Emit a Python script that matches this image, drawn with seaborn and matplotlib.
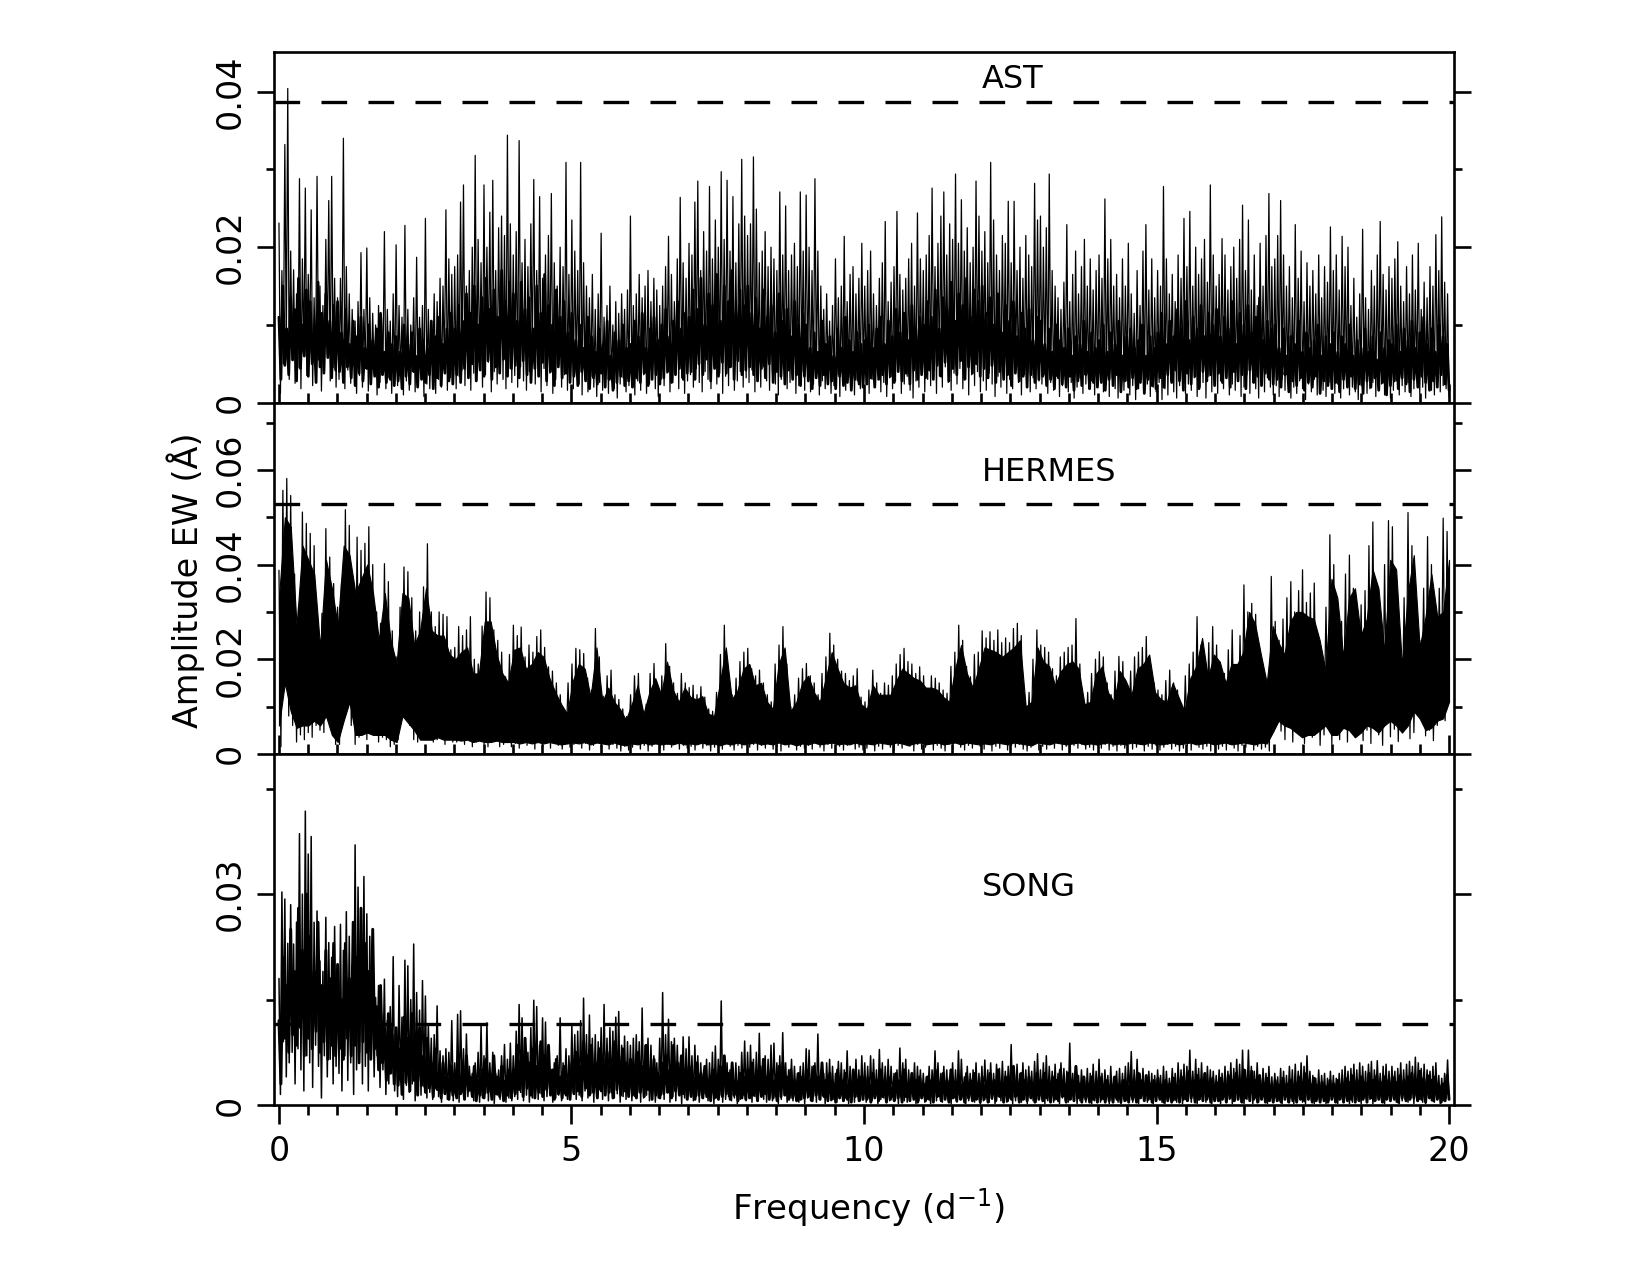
import numpy as np
import matplotlib
matplotlib.use("Agg")
import matplotlib.pyplot as plt
from matplotlib.ticker import FixedLocator, FixedFormatter
import seaborn as sns

# Amplitude spectra of the equivalent width, in units of 1e-4 Angstrom.
# Each row covers one cycle per day; highs and lows alternate along the frequency axis.
# The *_dense lists hold the crowded lower part of a spectrum, and the hermes_mass lists
# outline the unresolved black region of the HERMES spectrum.
ast_highs = [
 231,170,332,404,195,171,140,288,185,276,165,248,135,291,150,125,210,260,291,160,
 135,160,340,175,140,120,105,130,193,120,199,135,115,100,125,110,220,120,105,140,
 203,125,110,228,120,100,135,187,110,125,237,120,105,140,130,160,150,248,185,165,
 175,190,258,280,150,170,200,318,210,180,280,200,245,286,170,225,240,215,344,230,
 190,220,337,180,210,175,230,287,170,265,160,190,215,269,180,150,200,175,309,165,
 235,195,170,309,180,150,135,165,120,140,218,110,125,150,100,130,115,140,120,145,
 240,125,140,165,135,150,170,130,160,145,125,150,175,214,165,130,185,264,180,160,
 205,190,258,285,170,220,195,278,185,235,200,297,210,286,195,265,180,230,313,240,
 215,230,316,249,180,195,220,175,200,185,170,271,190,253,170,190,205,175,271,195,
 267,200,170,288,195,150,120,140,105,125,185,135,150,214,130,165,175,140,160,205,
 150,170,195,140,125,160,180,233,130,155,175,246,165,145,160,185,205,150,244,185,
 170,190,215,276,175,205,240,271,190,230,210,294,205,261,195,225,180,200,285,240,
 195,220,180,309,235,190,170,215,205,259,180,259,170,200,160,215,190,175,282,235,
 240,200,225,294,170,150,135,120,155,229,130,165,195,140,175,210,150,185,145,170,
 190,160,262,185,210,150,165,135,185,150,205,140,115,170,125,195,229,145,185,135,
 170,150,278,185,140,165,130,190,160,237,175,246,150,200,165,185,210,155,280,190,
 150,165,211,190,145,175,200,160,210,254,170,235,145,190,125,205,150,215,269,175,
 185,215,260,190,150,175,135,229,160,195,130,180,150,170,140,190,135,175,155,226,
 170,190,145,214,175,200,125,160,110,140,223,135,120,170,150,190,233,165,145,175,
 160,185,207,150,130,175,140,190,145,205,120,155,135,175,150,216,170,239,155,140,
]
ast_lows = [
 12,50,70,30,55,25,45,18,60,35,70,22,40,55,15,38,62,28,45,20,
 30,55,18,42,25,48,12,35,20,44,15,28,38,10,26,42,18,32,12,24,
 22,36,10,28,16,40,14,26,34,8,24,18,38,12,30,20,44,16,32,26,
 18,34,42,22,50,16,38,28,46,20,36,52,14,40,24,48,30,18,44,26,
 35,20,46,28,16,40,54,24,34,14,44,22,38,12,30,48,20,36,16,28,
 18,38,24,10,30,14,34,20,8,26,16,36,12,28,18,6,24,32,14,22,
 20,10,28,16,36,12,24,34,18,8,30,22,38,14,26,42,18,32,12,28,
 36,20,44,26,14,40,30,18,48,24,38,12,34,22,46,16,28,40,20,32,
 26,42,14,34,20,46,28,16,38,24,10,30,44,18,26,36,12,22,40,16,
 30,14,24,38,10,28,18,34,12,22,36,8,26,16,32,20,10,28,18,34,
 24,12,30,20,36,14,26,8,32,18,28,40,12,24,34,16,6,28,20,36,
 14,30,22,42,12,34,20,46,26,16,38,24,44,18,30,10,36,22,40,14,
 28,16,38,24,8,34,20,42,12,30,18,44,26,10,36,22,14,32,18,28,
 24,36,12,26,16,34,8,22,30,14,26,6,20,32,12,24,18,28,10,22,
 30,14,24,8,32,18,6,26,16,28,10,22,4,18,30,12,24,8,20,14,
 26,4,18,10,28,14,6,22,30,12,24,16,32,8,20,26,6,34,14,22,
 12,28,18,34,10,24,16,30,8,20,36,12,26,18,6,28,14,32,20,10,
 22,8,30,16,26,6,20,12,28,18,4,24,14,30,10,22,16,8,26,18,
 12,24,6,18,28,10,20,14,4,22,30,12,18,26,8,16,24,10,20,6,
 16,28,10,22,14,26,8,18,30,12,20,6,24,16,10,28,14,22,18,8,
]
ast_dense_highs = [
 110,150,95,135,120,160,100,145,130,90,155,115,140,105,125,
 130,90,120,75,105,85,110,70,100,80,95,115,65,90,75,
 85,65,100,75,90,60,95,80,70,105,85,110,75,95,115,
 95,125,105,140,115,150,100,135,160,120,145,110,170,130,155,
 140,105,155,120,135,95,150,115,165,125,100,145,110,130,90,
 115,80,100,70,110,85,65,95,75,105,60,90,80,100,70,
 75,105,85,115,70,95,110,80,100,120,85,105,130,95,115,
 110,145,120,160,100,140,125,165,105,150,130,170,115,145,125,
 150,115,135,95,145,110,125,90,140,105,120,85,130,100,115,
 100,70,90,65,105,75,85,60,95,70,110,80,65,90,75,
 80,100,70,95,110,75,105,85,120,90,115,80,125,95,110,
 100,130,110,145,95,135,120,155,105,140,125,160,110,145,130,
 150,115,135,100,140,90,125,105,130,85,115,95,120,80,110,
 105,75,95,65,100,80,70,95,60,85,75,105,65,90,70,
 80,100,65,90,75,105,60,85,95,70,80,100,60,85,70,
 90,115,75,105,85,120,95,130,80,110,95,125,85,115,100,
 120,85,110,95,130,75,115,100,125,90,110,135,80,105,95,
 100,70,95,60,85,75,105,65,90,70,80,100,60,85,75,
 90,65,85,75,100,60,80,70,95,65,85,55,90,70,80,
 75,100,65,95,80,105,70,90,110,75,95,65,100,85,75,
]
ast_dense_lows = [
 30,48,36,55,28,44,60,34,50,26,46,38,58,32,42,
 40,26,46,32,22,38,28,44,24,34,20,36,26,30,22,
 28,18,34,24,40,20,30,26,36,18,32,22,38,28,24,
 36,26,44,32,50,28,42,34,54,30,46,38,56,34,44,
 48,32,54,36,26,44,34,52,28,40,22,46,32,38,26,
 34,22,40,28,18,32,24,38,20,30,16,26,34,22,28,
 20,32,26,38,22,30,36,24,32,40,26,36,44,30,38,
 40,30,50,36,56,28,44,34,52,38,46,30,54,36,42,
 46,36,28,44,32,50,26,40,34,24,42,30,36,22,34,
 28,18,32,22,36,24,28,18,34,22,26,16,30,24,20,
 24,32,20,30,36,24,34,26,40,28,38,24,42,30,36,
 32,42,30,48,34,52,28,44,36,54,30,46,38,50,34,
 44,32,48,26,40,30,36,22,38,28,34,20,36,26,30,
 34,22,30,18,32,24,20,34,16,28,22,36,18,26,20,
 26,16,30,22,36,14,28,20,32,18,26,12,30,22,18,
 32,20,36,26,42,28,16,38,24,34,18,40,28,36,22,
 38,26,32,20,40,28,36,18,42,26,34,22,38,30,24,
 30,20,36,14,28,22,32,16,26,20,34,12,28,22,18,
 26,14,30,20,34,18,24,12,28,20,32,16,26,10,22,
 28,18,32,24,14,30,20,34,26,16,28,20,36,24,16,
]

hermes_highs = [
 388,557,582,546,380,310,511,487,466,440,248,297,476,416,360,
 310,360,516,483,374,458,430,445,480,400,300,276,402,364,260,
 205,310,395,385,330,260,300,353,444,300,269,300,295,290,220,
 225,269,250,262,290,200,190,270,342,330,262,240,215,163,210,
 272,250,268,205,230,215,248,262,225,184,175,150,125,93,150,
 190,223,220,212,160,135,265,205,122,165,177,125,115,95,79,
 125,165,170,95,105,170,191,125,165,233,185,150,128,170,150,
 140,145,125,142,120,95,90,130,210,272,165,125,160,195,215,
 223,180,165,177,150,125,110,190,230,269,190,100,125,160,180,
 191,165,150,125,170,205,255,230,200,175,170,155,165,180,120,
 110,135,177,150,128,150,145,165,190,210,223,195,190,170,184,
 165,135,165,160,150,135,128,185,215,272,240,185,163,210,215,
 260,245,258,240,262,235,245,235,265,276,250,110,130,200,262,
 230,225,215,180,165,205,215,225,230,286,190,110,130,170,200,
 216,205,150,125,175,206,195,140,175,205,215,225,248,190,150,
 135,125,155,177,150,135,100,165,190,215,290,230,185,235,269,
 230,185,170,220,262,180,250,357,300,318,295,215,180,130,375,
 280,240,285,330,364,300,345,389,320,340,361,250,200,310,463,
 400,240,280,380,420,350,290,315,345,440,490,300,250,400,493,
 480,330,200,330,510,440,260,240,350,459,400,280,350,498,470,
]
hermes_lows = [
 15,150,80,60,25,40,30,45,35,60,50,45,75,55,20,
 20,70,100,60,20,35,45,30,60,40,25,35,30,15,20,
 30,85,80,60,30,25,40,30,35,25,30,35,20,30,25,
 25,30,20,35,15,25,30,20,15,25,30,15,20,25,15,
 22,12,28,18,25,10,30,16,22,12,26,18,10,24,14,
 20,26,12,22,8,18,28,14,24,10,20,12,6,16,8,
 14,22,10,18,6,16,24,12,8,20,14,26,10,18,12,
 16,8,22,12,18,6,14,20,10,24,16,8,18,12,22,
 14,20,8,18,12,24,10,16,6,20,14,22,8,16,12,
 18,10,24,14,6,20,12,26,16,8,18,22,10,14,8,
 12,20,6,16,10,22,14,8,18,12,24,16,6,20,10,
 14,22,8,18,12,6,20,10,24,14,8,18,12,20,16,
 10,22,6,16,12,24,8,18,14,20,10,6,14,22,8,
 16,10,20,12,24,8,16,6,18,12,20,10,14,8,18,
 12,20,8,16,6,18,12,22,10,14,20,6,16,10,18,
 8,14,20,10,16,6,12,18,8,22,14,10,16,6,18,
 10,16,8,20,12,6,18,14,22,8,16,10,14,6,60,
 70,48,30,62,25,55,44,22,60,35,48,18,40,55,20,
 45,30,60,25,48,35,68,28,50,22,58,40,18,70,36,
 52,26,72,60,32,45,92,80,38,50,28,60,85,70,112,
]
hermes_mass_top = [
 330,500,480,270,440,410,380,225,410,350,
 270,440,420,340,370,400,340,240,340,240,
 190,340,330,230,260,350,260,250,250,210,
 200,215,225,170,170,280,280,210,170,150,
 220,225,180,190,215,205,160,130,105,85,
 155,190,180,120,225,110,140,110,95,72,
 105,145,85,130,160,125,195,135,110,140,
 120,115,122,85,80,150,225,115,135,180,
 190,145,150,110,95,190,225,90,110,150,
 165,130,110,160,215,180,150,140,145,105,
 95,145,125,125,125,155,180,170,160,155,
 140,140,135,120,110,180,230,170,140,180,
 225,220,215,205,215,225,240,100,110,225,
 195,185,145,175,190,195,180,105,110,170,
 185,130,110,175,155,125,180,190,210,130,
 115,110,150,120,90,160,185,245,160,210,
 195,150,190,190,215,300,275,210,150,270,
 235,210,280,300,300,290,285,240,175,370,
 330,205,330,350,250,285,390,350,215,410,
 390,185,340,420,225,290,380,290,300,410,
]
hermes_mass_floor = [
 60,150,90,55,60,60,70,60,80,40,
 25,70,110,40,40,45,40,40,40,30,
 25,80,65,50,30,30,30,35,30,30,
 30,28,30,25,28,25,25,28,25,25,
 25,22,25,22,25,22,25,22,20,22,
 24,22,25,20,24,22,20,24,20,18,
 22,20,24,20,22,20,22,20,24,20,
 22,20,24,20,22,18,22,20,24,20,
 22,24,20,22,20,24,20,22,18,22,
 20,24,20,22,24,20,22,20,24,20,
 22,20,24,22,20,24,22,18,22,24,
 20,22,24,20,22,24,20,24,22,20,
 22,20,24,22,20,24,22,20,18,24,
 22,20,24,22,20,22,24,20,22,20,
 22,24,20,22,20,24,22,20,24,22,
 20,22,24,20,22,24,20,22,24,20,
 22,24,20,22,24,22,20,24,22,45,
 70,60,55,45,35,40,40,50,60,40,
 40,55,50,35,45,60,55,45,60,70,
 60,45,60,90,75,50,55,70,75,110,
]

song_highs = [
 180,303,293,230,285,229,260,386,300,418,357,382,260,276,205,190,267,231,210,254,
 190,257,220,275,240,200,370,310,270,325,272,240,165,153,170,130,179,120,140,211,
 110,170,125,206,198,150,229,160,135,177,155,115,95,100,141,77,70,80,75,120,
 60,129,134,80,101,55,45,60,75,113,70,117,60,75,45,50,70,86,65,88,
 70,105,143,124,95,75,110,149,140,85,124,118,60,50,60,70,124,60,80,70,
 113,100,105,120,152,100,128,95,100,90,110,143,95,110,105,125,133,85,98,90,
 85,95,100,90,138,85,95,85,70,60,95,160,100,122,90,95,85,60,97,80,
 97,70,85,70,60,50,65,60,75,84,65,148,70,60,50,45,60,55,75,91,
 75,85,65,75,102,55,70,65,85,88,60,70,103,60,50,65,55,45,55,60,
 80,78,55,60,101,50,45,60,65,55,45,62,60,50,77,55,45,65,50,70,
 60,55,70,65,50,79,60,55,65,55,45,50,81,60,65,50,45,60,55,50,
 45,40,55,50,77,60,45,55,50,40,60,50,77,65,40,55,45,50,60,45,
 55,64,50,60,45,58,52,62,48,55,86,50,58,45,60,50,55,48,62,73,
 50,60,70,55,48,58,45,60,52,48,88,45,55,42,50,40,52,45,58,48,
 65,45,50,42,55,40,48,52,45,55,60,76,50,65,45,52,40,48,45,42,
 50,42,55,48,38,52,45,60,50,58,55,78,48,65,52,60,45,55,50,48,
 42,50,45,55,48,60,52,65,58,78,50,78,55,48,60,42,52,45,55,40,
 45,40,52,48,42,55,50,58,48,60,55,70,48,42,38,50,42,45,38,48,
 42,38,45,50,55,48,52,58,50,60,55,48,58,62,50,63,45,55,58,48,
 55,48,52,60,50,58,62,55,68,60,52,58,50,48,55,60,42,38,45,64,
]
song_lows = [
 15,90,40,60,75,30,80,50,20,70,60,25,85,55,10,70,40,65,30,55,
 45,20,70,35,60,15,50,75,30,55,20,65,40,70,25,50,15,30,45,20,
 12,35,8,28,18,30,6,22,14,26,10,18,8,24,12,4,16,8,20,6,
 14,4,18,8,12,20,6,14,4,10,16,6,12,2,14,8,18,4,10,6,
 12,8,18,6,14,4,10,20,8,16,6,12,18,4,10,14,6,16,8,12,
 18,8,14,6,20,10,16,4,12,22,8,14,6,18,10,16,4,12,8,14,
 6,12,18,4,10,14,6,16,4,10,14,8,18,4,12,6,16,2,10,8,
 14,6,12,4,10,16,6,12,2,10,14,4,8,12,6,10,2,8,14,6,
 10,4,12,6,14,8,4,10,6,12,2,8,14,4,10,6,12,4,8,2,
 10,6,12,4,8,14,2,10,6,8,4,12,6,10,2,8,4,12,6,8,
 4,10,6,12,2,8,10,4,6,12,8,2,10,6,4,8,12,2,6,10,
 4,8,2,10,6,12,4,8,6,2,10,4,8,12,2,6,10,4,8,2,
 6,10,4,8,2,12,6,8,4,10,2,6,12,4,8,2,10,6,4,8,
 10,2,6,12,4,8,2,10,6,4,8,12,2,6,10,4,8,2,6,10,
 4,8,12,2,6,10,4,2,8,6,12,4,8,2,10,6,4,8,2,6,
 10,4,2,8,12,6,4,10,2,8,6,4,10,2,8,6,4,12,2,8,
 6,2,10,4,8,2,6,10,4,2,8,6,2,10,4,8,12,2,6,4,
 10,6,2,8,4,10,2,6,8,4,2,10,6,2,8,4,10,2,6,8,
 4,2,8,6,10,2,4,8,6,2,10,4,8,2,6,10,4,2,8,6,
 10,4,2,6,8,4,10,2,6,8,4,2,10,6,4,8,2,6,10,8,
]
song_dense_highs = [
 120,210,170,250,190,280,220,300,240,190,260,170,220,180,230,
 200,150,230,180,260,210,280,230,190,250,140,170,110,130,100,
 110,80,125,95,130,85,110,70,95,60,80,45,60,40,55,
 35,60,45,70,40,55,35,50,65,45,70,40,55,35,50,
 50,85,65,95,60,80,55,90,70,85,50,65,40,55,35,
 60,75,55,90,70,85,60,80,65,75,55,90,70,80,60,
 65,50,75,55,85,50,65,45,60,70,50,85,60,70,45,
 55,40,60,45,55,35,50,40,55,70,45,60,35,45,40,
 50,60,40,55,65,40,50,35,55,60,40,50,35,45,40,
 50,35,55,40,60,35,45,30,50,35,45,30,50,35,40,
 40,30,45,35,50,30,40,25,45,35,50,30,45,35,40,
 30,40,35,50,30,45,35,50,25,40,30,45,35,45,30,
 40,30,45,35,50,30,40,35,55,30,45,35,40,30,45,
 35,45,30,40,35,50,30,45,35,55,30,40,30,40,28,
 40,28,35,30,40,28,35,30,40,30,45,35,42,30,35,
 38,28,35,30,38,28,40,32,48,35,42,35,45,30,38,
 32,38,30,42,35,45,32,50,38,48,35,42,30,38,28,
 35,28,38,30,35,28,40,32,45,30,38,28,32,26,35,
 30,35,28,38,32,42,35,40,32,45,35,42,32,40,35,
 40,32,42,35,40,45,35,48,38,42,35,40,28,30,42,
]
song_dense_lows = [
 30,95,75,100,85,110,70,95,80,105,75,90,65,85,70,
 80,65,95,70,85,60,90,75,65,80,50,60,35,45,30,
 28,15,32,20,35,14,28,18,24,12,22,10,16,8,14,
 10,16,8,20,12,6,14,10,18,8,16,12,6,14,10,
 16,22,12,24,14,10,18,12,22,14,8,16,10,14,8,
 16,20,12,24,14,18,10,20,14,18,10,22,14,20,12,
 14,10,18,12,22,8,14,10,16,18,10,20,14,16,8,
 12,8,14,10,12,6,10,8,12,16,8,14,6,10,8,
 10,14,6,12,16,8,10,6,12,14,8,10,6,8,10,
 12,6,14,8,12,6,8,4,10,6,8,4,12,6,8,
 8,4,10,6,12,4,8,6,10,4,12,6,8,4,10,
 6,8,4,12,6,8,4,10,6,8,4,10,6,8,4,
 8,4,10,6,12,4,6,8,12,4,8,6,10,4,8,
 6,10,4,8,6,12,4,8,6,10,4,8,4,8,4,
 8,4,6,4,8,4,6,4,8,4,10,6,8,4,6,
 8,4,6,4,8,4,8,6,10,4,8,6,8,4,6,
 6,8,4,10,6,8,4,10,6,8,4,8,4,6,4,
 6,4,8,4,6,4,8,6,8,4,6,4,6,4,8,
 4,8,4,6,8,4,6,8,4,10,6,8,4,8,6,
 8,4,10,6,8,10,6,8,4,10,6,8,4,6,8,
]

panel_names = ["AST", "HERMES", "SONG"]
thresholds = [0.03865, 0.0529, 0.01155]
y_limits = [0.04514, 0.0742, 0.04995]
label_heights = [0.0405, 0.0576, 0.0298]
major_y_ticks = [[0, 0.02, 0.04], [0, 0.02, 0.04, 0.06], [0, 0.03]]
minor_y_ticks = [[0.01, 0.03], [0.01, 0.03, 0.05, 0.07], [0.015, 0.045]]
major_y_labels = [["0", "0.02", "0.04"], ["0", "0.02", "0.04", "0.06"], ["0", "0.03"]]
x_tick_values = [0, 5, 10, 15, 20]
x_minor_values = [0.5 * k for k in range(41) if k % 10]
x_limits = (-0.09, 20.09)


def zigzag(highs, lows):
    """Alternate highs and lows into one spectrum on a uniform frequency grid."""
    count = min(len(highs), len(lows))
    amp = np.empty(2 * count)
    amp[0::2] = np.asarray(highs[:count]) * 1e-4
    amp[1::2] = np.asarray(lows[:count]) * 1e-4
    return np.linspace(0, 20, amp.size), amp


sns.set_theme(style="ticks", rc={"font.family": ["DejaVu Sans"], "text.color": "black",
                                 "axes.labelcolor": "black", "xtick.color": "black",
                                 "ytick.color": "black", "axes.edgecolor": "black"})
plt.rcParams["mathtext.default"] = "regular"

W, H = 1650, 1275
fig, axes = plt.subplots(
    3, 1, sharex=True, figsize=(W / 100, H / 100), dpi=100,
    gridspec_kw=dict(left=273.7 / W, right=1454.3 / W, top=1 - 51.6 / H,
                     bottom=1 - 1105 / H, hspace=0),
)
layers = [
    [(ast_dense_highs, ast_dense_lows, 2.0), (ast_highs, ast_lows, 0.9)],
    [(hermes_highs, hermes_lows, 0.9)],
    [(song_dense_highs, song_dense_lows, 2.1), (song_highs, song_lows, 1.1)],
]

for i, ax in enumerate(axes):
    if panel_names[i] == "HERMES":
        mass_freq = np.linspace(0, 20, len(hermes_mass_top))
        ax.fill_between(mass_freq, np.array(hermes_mass_floor) * 1e-4,
                        np.array(hermes_mass_top) * 1e-4, color="black", linewidth=0.8)
    for highs, lows, width in layers[i]:
        freq, amp = zigzag(highs, lows)
        sns.lineplot(x=freq, y=amp, ax=ax, color="black", linewidth=width,
                     estimator=None, sort=False, errorbar=None)
    ax.axhline(thresholds[i], color="black", linewidth=2.4, dashes=(7.7, 6.4))
    ax.text(12.02, label_heights[i], panel_names[i], fontsize=23, color="black",
            ha="left", va="baseline")

    ax.set_xlim(*x_limits)
    ax.set_ylim(0, y_limits[i])
    ax.yaxis.set_major_locator(FixedLocator(major_y_ticks[i]))
    ax.yaxis.set_major_formatter(FixedFormatter(major_y_labels[i]))
    ax.yaxis.set_minor_locator(FixedLocator(minor_y_ticks[i]))
    ax.xaxis.set_major_locator(FixedLocator(x_tick_values))
    ax.xaxis.set_minor_locator(FixedLocator(x_minor_values))

    for side in ax.spines.values():
        side.set_visible(True)
        side.set_linewidth(1.9)
        side.set_color("black")

    ax.tick_params(axis="y", which="major", direction="out", left=True, right=True,
                   length=12.2, width=1.9, labelsize=24, pad=7, color="black")
    ax.tick_params(axis="y", which="minor", direction="out", left=True, right=True,
                   length=6, width=1.9, color="black")
    for label in ax.get_yticklabels():
        label.set_rotation(90)
        label.set_va("center")
    ax.set_xlabel("")
    ax.set_ylabel("")

    if i < 2:
        ax.tick_params(axis="x", which="major", direction="inout", bottom=True,
                       length=27.4, width=1.9, labelbottom=False, color="black")
        ax.tick_params(axis="x", which="minor", direction="inout", bottom=True,
                       length=15, width=1.9, color="black")
    else:
        ax.tick_params(axis="x", which="major", direction="out", bottom=True,
                       length=13.7, width=1.9, labelsize=24, pad=8, color="black")
        ax.tick_params(axis="x", which="minor", direction="out", bottom=True,
                       length=7, width=1.9, color="black")

fig.text(176.5 * 1.0523 / W, 1 - 551 * 1.0523 / H, "Amplitude EW (Å)", rotation=90,
         fontsize=24, ha="center", va="center", color="black")
fig.text(825 * 1.0523 / W, 1 - 1148 * 1.0523 / H, "Frequency (d$^{-1}$)",
         fontsize=24.5, ha="center", va="center", color="black")

fig.savefig("out.png", dpi=100, facecolor="white")
